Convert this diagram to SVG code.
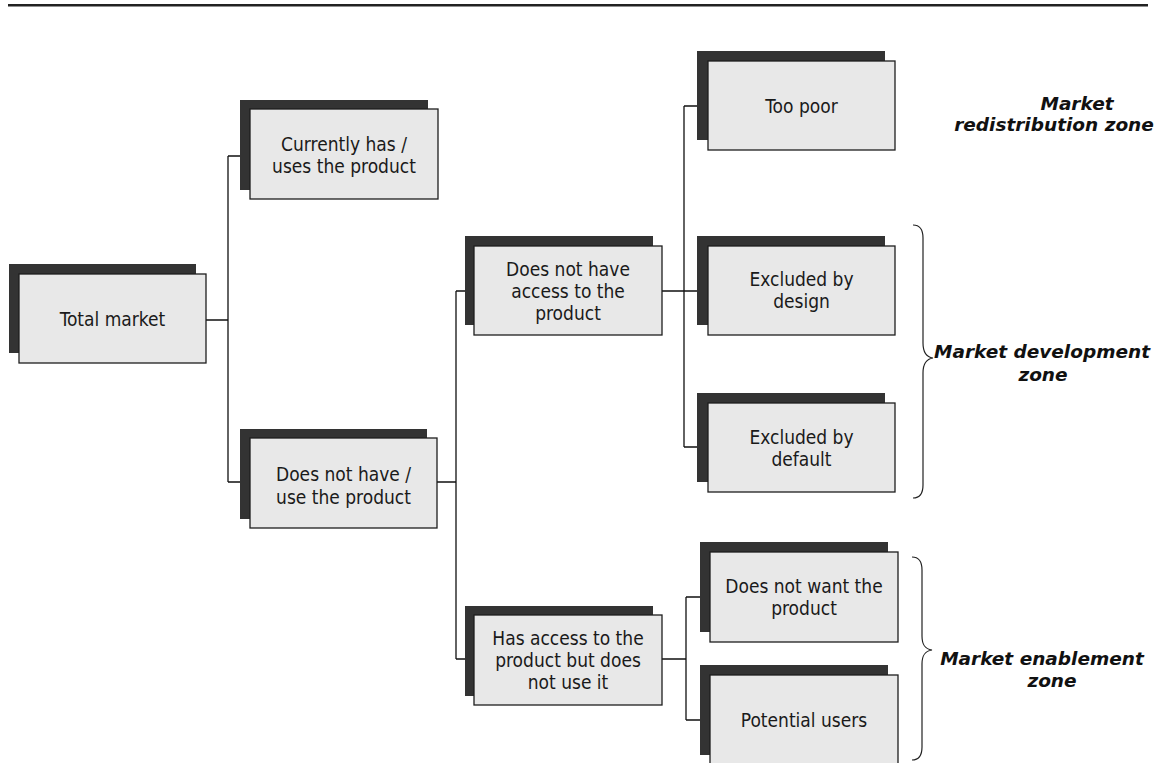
<svg xmlns="http://www.w3.org/2000/svg" width="1156" height="763" viewBox="0 0 1156 763">
<style>
.sh{fill:#333333}
.bx{fill:#e8e8e8;stroke:#1e1e1e;stroke-width:1.3}
.t{font-family:"DejaVu Sans Condensed","Liberation Sans",Arial,sans-serif;font-size:19px;fill:#1a1a1a;text-anchor:middle}
.z{font-family:"DejaVu Sans","Verdana",sans-serif;font-size:18.5px;font-weight:bold;font-style:italic;fill:#111;text-anchor:middle}
.c{fill:none;stroke:#111;stroke-width:1.3}
.br{fill:none;stroke:#222;stroke-width:1.2}
</style>
<rect x="8" y="4" width="1140" height="2.5" fill="#222"/>
<g id="connectors">
<path class="c" d="M206,320H228M228,156V482M228,156H250M228,482H250"/>
<path class="c" d="M437,482H456M456,291V659M456,291H474M456,659H474"/>
<path class="c" d="M662,291H708M684,106V447M684,106H708M684,447H708"/>
<path class="c" d="M662,659H686M686,597V720M686,597H710M686,720H710"/>
</g>
<g id="total-market"><rect class="sh" x="9" y="264" width="187" height="89"/><rect class="bx" x="19" y="274" width="187" height="89"/><text class="t" x="112.5" y="326">Total market</text></g>
<g id="currently-has"><rect class="sh" x="240" y="100" width="188" height="90"/><rect class="bx" x="250" y="109" width="188" height="90"/><text class="t" x="344" y="151">Currently has /</text><text class="t" x="344" y="173">uses the product</text></g>
<g id="does-not-have"><rect class="sh" x="240" y="429" width="187" height="90"/><rect class="bx" x="250" y="438" width="187" height="90"/><text class="t" x="343.5" y="481">Does not have /</text><text class="t" x="343.5" y="504">use the product</text></g>
<g id="no-access"><rect class="sh" x="465" y="236" width="188" height="89"/><rect class="bx" x="474" y="246" width="188" height="89"/><text class="t" x="568" y="276">Does not have</text><text class="t" x="568" y="298">access to the</text><text class="t" x="568" y="320">product</text></g>
<g id="has-access"><rect class="sh" x="465" y="606" width="188" height="90"/><rect class="bx" x="474" y="615" width="188" height="90"/><text class="t" x="568" y="645">Has access to the</text><text class="t" x="568" y="667">product but does</text><text class="t" x="568" y="689">not use it</text></g>
<g id="too-poor"><rect class="sh" x="697" y="51" width="188" height="89"/><rect class="bx" x="708" y="61" width="187" height="89"/><text class="t" x="801.5" y="113">Too poor</text></g>
<g id="excluded-design"><rect class="sh" x="697" y="236" width="188" height="89"/><rect class="bx" x="708" y="246" width="187" height="89"/><text class="t" x="801.5" y="286">Excluded by</text><text class="t" x="801.5" y="308">design</text></g>
<g id="excluded-default"><rect class="sh" x="697" y="393" width="188" height="89"/><rect class="bx" x="708" y="403" width="187" height="89"/><text class="t" x="801.5" y="444">Excluded by</text><text class="t" x="801.5" y="466">default</text></g>
<g id="not-want"><rect class="sh" x="700" y="542" width="188" height="90"/><rect class="bx" x="710" y="552" width="188" height="90"/><text class="t" x="804" y="593">Does not want the</text><text class="t" x="804" y="615">product</text></g>
<g id="potential-users"><rect class="sh" x="700" y="665" width="188" height="90"/><rect class="bx" x="710" y="675" width="188" height="90"/><text class="t" x="804" y="727">Potential users</text></g>
<g id="zone-redistribution"><text class="z" x="1077" y="110">Market</text><text class="z" x="1054" y="131">redistribution zone</text></g>
<g id="zone-development"><path class="br" d="M913,225C920,225 923,229 923,238V343C923,352 926,357 933,358C926,359 923,364 923,373V485C923,494 920,498 913,498"/><text class="z" x="1042" y="358">Market development</text><text class="z" x="1043" y="381">zone</text></g>
<g id="zone-enablement"><path class="br" d="M912,557C919,557 922,561 922,570V636C922,645 925,649 932,650C925,651 922,655 922,664V747C922,756 919,760 912,760"/><text class="z" x="1042" y="665">Market enablement</text><text class="z" x="1052" y="687">zone</text></g>
</svg>
